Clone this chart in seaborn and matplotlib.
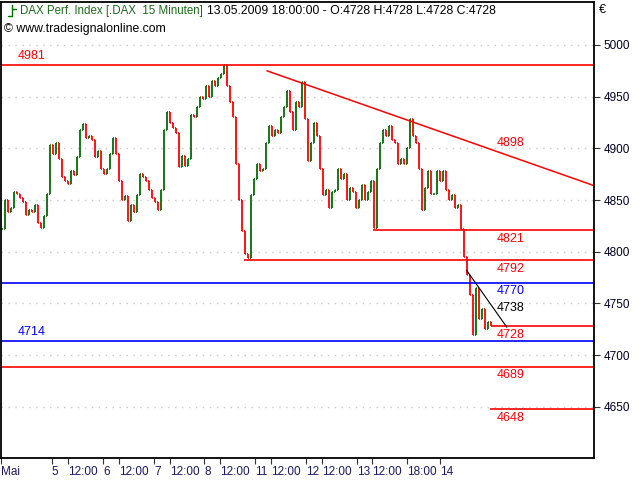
import numpy as np
import pandas as pd
import matplotlib
matplotlib.use("Agg")
import matplotlib.pyplot as plt
import seaborn as sns

closes = [
    4822, 4850, 4838, 4842, 4858, 4856, 4852, 4848, 4836, 4840,
    4838, 4845, 4828, 4823, 4835, 4856, 4903, 4895, 4905, 4890,
    4872, 4868, 4866, 4878, 4874, 4892, 4918, 4924, 4910, 4912,
    4908, 4892, 4897, 4880, 4875, 4880, 4895, 4910, 4895, 4868,
    4850, 4854, 4830, 4845, 4838, 4855, 4875, 4872, 4868, 4860,
    4852, 4848, 4840, 4860, 4918, 4935, 4925, 4920, 4915, 4882,
    4893, 4883, 4890, 4932, 4930, 4940, 4950, 4948, 4960, 4950,
    4965, 4960, 4968, 4972, 4981, 4960, 4945, 4930, 4885, 4850,
    4820, 4798, 4794, 4855, 4870, 4885, 4878, 4880, 4905, 4922,
    4912, 4918, 4915, 4930, 4940, 4955, 4935, 4918, 4945, 4940,
    4964, 4928, 4888, 4905, 4925, 4912, 4880, 4855, 4860, 4842,
    4858, 4860, 4880, 4870, 4875, 4850, 4862, 4858, 4842, 4850,
    4865, 4850, 4858, 4868, 4823, 4880, 4905, 4918, 4912, 4922,
    4908, 4905, 4885, 4890, 4885, 4900, 4928, 4912, 4905, 4880,
    4840, 4862, 4878, 4856, 4856, 4878, 4868, 4878, 4860, 4850,
    4855, 4842, 4845, 4822, 4795, 4778, 4758, 4720, 4765, 4735,
    4745, 4725, 4732, 4728,
]

# horizontale Marken: Wert, Farbe, Start (Bar-Index), Label links/rechts
level_values = [4981, 4821, 4792, 4770, 4728, 4714, 4689, 4648]
level_colors = ["#ff0000", "#ff0000", "#ff0000", "#0000ff", "#ff0000", "#0000ff", "#ff0000", "#ff0000"]
level_start = [None, 123.7, 80.7, None, 163.0, None, None, 162.7]
level_side = ["left", "right", "right", "right", "right", "left", "right", "right"]

# Trendlinien (Bar-Index, Kurs)
trend_red_x = [88.3, 197.3]
trend_red_y = [4975, 4864]
trend_red_label = 4898
trend_black_x = [154.9, 168.3]
trend_black_y = [4782, 4727]
trend_black_label = 4738

tick_labels = ["Mai", "5", "12:00", "6", "12:00", "7", "12:00", "8", "12:00",
               "11", "12:00", "12", "12:00", "13", "12:00", "18:00", "14"]
tick_px = [1.3, 51.7, 67.7, 103.3, 119.3, 154, 170, 204.3, 220,
           255.3, 270.7, 306, 321.7, 356.7, 372, 406.7, 440]

GREEN = "#007000"
RED = "#ff0000"
W, H = 640, 480
YTOP = 5042


def px2bar(px):
    return (np.asarray(px, dtype=float) - 2) / 3


sns.set_theme(style="white")
plt.rcParams["font.family"] = ["Liberation Sans", "DejaVu Sans"]

fig = plt.figure(figsize=(6.4, 4.8), dpi=100)
ax = fig.add_axes([1 / W, 22 / H, 593 / W, 456.5 / H])

df = pd.DataFrame({"close": closes})
df["open"] = df["close"].shift(1).fillna(df["close"].iloc[0])
df["x"] = np.arange(len(df))
df["col"] = np.where(df["close"] >= df["open"], GREEN, RED)

ax.vlines(df["x"], df[["open", "close"]].min(axis=1), df[["open", "close"]].max(axis=1),
          colors=df["col"], lw=1.3)
ax.hlines(df["open"], df["x"] - 0.45, df["x"], colors=df["col"], lw=1.2)
ax.hlines(df["close"], df["x"], df["x"] + 0.45, colors=df["col"], lw=1.2)

x0, x1 = px2bar(1), px2bar(594)
ax.set_xlim(x0, x1)
ax.set_ylim(4600.6, YTOP)

# Marken
for val, col, start, side in zip(level_values, level_colors, level_start, level_side):
    xs = x0 if start is None else start
    ax.hlines(val, xs, x1, colors=col, lw=1.2)
    if side == "left":
        ax.text(px2bar(18), val + 2.5, str(val), color=col, fontsize=9, va="bottom", ha="left")
    else:
        ax.text(px2bar(497), val - 2.5, str(val), color=col, fontsize=9, va="top", ha="left")

sns.lineplot(x=trend_red_x, y=trend_red_y, color=RED, lw=1.1, ax=ax)
ax.text(px2bar(497), trend_red_label + 1, str(trend_red_label), color=RED, fontsize=9,
        va="bottom", ha="left")
sns.lineplot(x=trend_black_x, y=trend_black_y, color="black", lw=0.8, ax=ax)
ax.text(px2bar(497), trend_black_label + 2, str(trend_black_label), color="black",
        fontsize=9, va="bottom", ha="left")

# Achsen
ax.set_yticks(np.arange(4650, 5001, 50))
ax.yaxis.tick_right()
ax.tick_params(axis="y", right=True, length=4, width=0.8, pad=3, labelsize=8.5,
               colors="#333333", labelcolor="#000022")
ax.grid(axis="y", color="#c8c8c8", linestyle=(0, (1, 4)), lw=1)
ax.grid(axis="x", visible=False)

ax.set_xticks(px2bar(tick_px))
ax.set_xticklabels(tick_labels)
ax.tick_params(axis="x", bottom=True, length=4, width=0.8, pad=2, labelsize=8.5,
               colors="#333333", labelcolor="#1a1a66")
for lab in ax.get_xticklabels():
    lab.set_horizontalalignment("left")

for s in ax.spines.values():
    s.set_color("black")
    s.set_linewidth(1.3)

# Kopfzeile
ax.plot([px2bar(8), px2bar(12)], [YTOP - 14.5] * 2, color=GREEN, lw=1)
ax.plot([px2bar(12), px2bar(12)], [YTOP - 3.5, YTOP - 14.5], color=GREEN, lw=1)
ax.plot([px2bar(12), px2bar(16)], [YTOP - 7] * 2, color=GREEN, lw=1)
fig.text(20 / W, 1 - 11 / H, "DAX Perf. Index [.DAX  15 Minuten]", color="#1a6b1a",
         fontsize=8.3, va="center", ha="left")
fig.text(207 / W, 1 - 11 / H, "13.05.2009 18:00:00 - O:4728 H:4728 L:4728 C:4728",
         color="black", fontsize=8.8, va="center", ha="left")
fig.text(4 / W, 1 - 29 / H, "\u00a9 www.tradesignalonline.com", color="black",
         fontsize=8.8, va="center", ha="left")
fig.text(599 / W, 1 - 10 / H, "\u20ac", color="black", fontsize=9, va="center", ha="left")

fig.savefig("out.png", dpi=100)
